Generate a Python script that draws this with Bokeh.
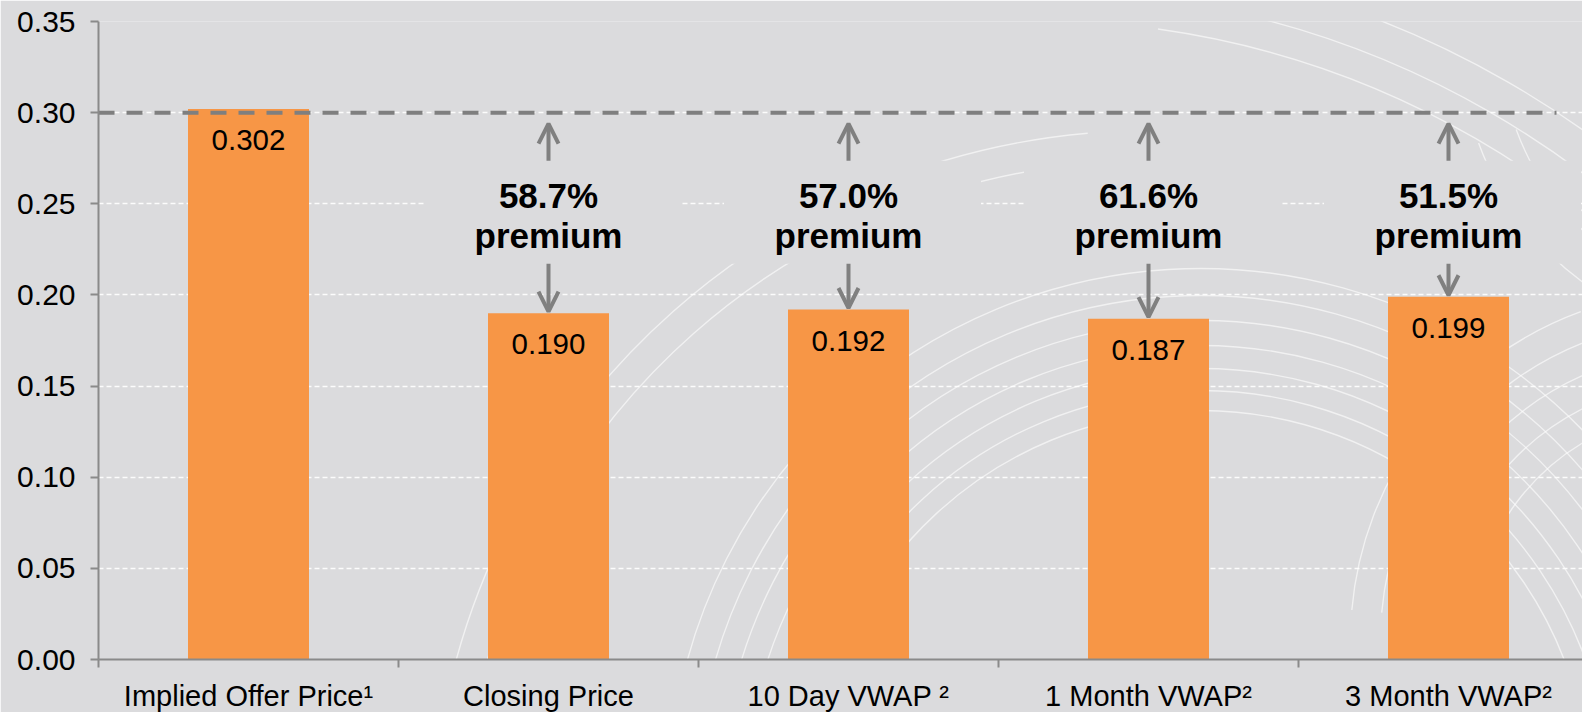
from bokeh.plotting import figure
from bokeh.models import (ColumnDataSource, LabelSet, Arrow, OpenHead, FixedTicker,
                          PrintfTickFormatter, Range1d)
from bokeh.core.properties import value
from bokeh.embed import file_html
from bokeh.resources import INLINE
import math

# ---------------- data ----------------
categories = ["Implied Offer Price", "Closing Price", "10 Day VWAP", "1 Month VWAP", "3 Month VWAP"]
footnotes = ["¹", "", " ²", "²", "²"]
prices = [0.302, 0.190, 0.192, 0.187, 0.199]
premiums = ["", "58.7%", "57.0%", "61.6%", "51.5%"]
offer_level = 0.30
y_ticks = [0.00, 0.05, 0.10, 0.15, 0.20, 0.25, 0.30, 0.35]

# ---------------- style ----------------
BG = "#DBDBDD"
ORANGE = "#F79646"
AXIS = "#8A8A8A"
ARROW = "#808080"
FONT = "Liberation Sans"

LEFT, TOP = 98, 21
FRAME_W, FRAME_H = 1484, 638
CAT_PX = 300.0
n = len(categories)
centers = [i + 0.5 for i in range(n)]
y_max = y_ticks[-1]
px_y = y_max / FRAME_H

p = figure(frame_width=FRAME_W, frame_height=FRAME_H,
           x_range=Range1d(0, FRAME_W / CAT_PX), y_range=Range1d(0, y_max),
           output_backend="svg", toolbar_location=None,
           min_border_left=LEFT, min_border_right=0, min_border_top=TOP, min_border_bottom=53)
p.background_fill_color = BG
p.border_fill_color = BG
p.outline_line_color = None


# ---- decorative background arcs (page-pixel geometry converted to data space) ----
def px2x(px):
    return (px - LEFT) / CAT_PX


def px2y(py):
    return (TOP + FRAME_H - py) * px_y


arc_cx, arc_cy, arc_r, arc_a0, arc_a1 = [], [], [], [], []


def add_arcs(cx, cy, radii, a0, a1):
    for r in radii:
        arc_cx.append(px2x(cx)); arc_cy.append(px2y(cy)); arc_r.append(r)
        arc_a0.append(math.radians(a0)); arc_a1.append(math.radians(a1))


add_arcs(1200, 800, (390, 410, 432, 455, 480, 505, 532), 15, 172)
add_arcs(1150, 850, (690, 720), 95, 168)
add_arcs(1035, 900, (880, 910, 945), 38, 82)
add_arcs(1700, 640, (230, 260, 290, 320, 350), 110, 175)
add_arcs(1760, 40, (260, 300), 200, 250)
p.arc(x=arc_cx, y=arc_cy, radius=arc_r, radius_units="screen",
      start_angle=arc_a0, end_angle=arc_a1, line_color="white", line_alpha=0.6,
      line_width=1.4)

# grid
p.xgrid.grid_line_color = None
p.ygrid.ticker = FixedTicker(ticks=y_ticks)
p.ygrid.grid_line_color = "white"
p.ygrid.grid_line_dash = "5 3"
p.ygrid.grid_line_width = 1.3
p.ygrid.grid_line_alpha = 0.9

# y axis
ya = p.yaxis[0]
ya.ticker = FixedTicker(ticks=y_ticks)
ya.formatter = PrintfTickFormatter(format="%.2f")
ya.axis_line_color = AXIS
ya.axis_line_width = 2
ya.major_tick_line_color = AXIS
ya.major_tick_line_width = 2
ya.major_tick_out = 8
ya.major_tick_in = 0
ya.minor_tick_line_color = None
ya.major_label_standoff = 15
ya.major_label_text_font = FONT
ya.major_label_text_font_size = "30px"
ya.major_label_text_color = "black"

# x axis: labels at category centres, boundary ticks drawn as minor ticks
xa = p.xaxis[0]
xa.ticker = FixedTicker(ticks=centers, minor_ticks=list(range(n)))
xa.major_label_overrides = {c: categories[i] + footnotes[i] for i, c in enumerate(centers)}
xa.axis_line_color = AXIS
xa.axis_line_width = 2
xa.major_tick_line_color = None
xa.major_tick_out = 8
xa.major_tick_in = 0
xa.minor_tick_line_color = AXIS
xa.minor_tick_line_width = 2
xa.minor_tick_out = 8
xa.minor_tick_in = 0
xa.major_label_standoff = 12
xa.major_label_text_font = FONT
xa.major_label_text_font_size = "29px"
xa.major_label_text_color = "black"

# bars
bar_src = ColumnDataSource(dict(x=centers, top=prices,
                                label=["%.3f" % v for v in prices]))
p.vbar(x="x", top="top", bottom=0, width=121 / CAT_PX, source=bar_src,
       fill_color=ORANGE, line_color=None)

# reference (offer) dashed line
p.segment(x0=[0], y0=[offer_level], x1=[n - 0.14], y1=[offer_level],
          line_color="#7F7F7F", line_width=4, line_dash="16 12")

# premium boxes + arrows
pidx = [i for i in range(n) if premiums[i]]
prem_src = ColumnDataSource(dict(
    x=[centers[i] for i in pidx],
    box_x=[centers[i] + 4 / CAT_PX for i in pidx],
    box_y=[offer_level - 99.5 * px_y for _ in pidx],
    ref=[offer_level for _ in pidx],
    up0=[offer_level - 48 * px_y for _ in pidx],
    up1=[offer_level - 11 * px_y for _ in pidx],
    dn0=[offer_level - 151 * px_y for _ in pidx],
    dn1=[prices[i] + 1.5 * px_y for i in pidx],
    prem=[premiums[i] for i in pidx],
    word=["premium" for _ in pidx],
))
p.rect(x="box_x", y="box_y", width=257, height=103, width_units="screen", height_units="screen",
       source=prem_src, fill_color=BG, line_color=None)

for a, b in (("up0", "up1"), ("dn0", "dn1")):
    p.add_layout(Arrow(end=OpenHead(size=20, line_width=4, line_color=ARROW),
                       x_start="x", y_start=a, x_end="x", y_end=b, source=prem_src,
                       line_color=ARROW, line_width=4))

for col, off in (("prem", -95), ("word", -135)):
    p.add_layout(LabelSet(x="x", y="ref", text=col, source=prem_src, y_offset=off,
                          text_align="center", text_baseline="alphabetic",
                          text_font=value(FONT), text_font_size=value("35px"),
                          text_font_style=value("bold"), text_color=value("black")))

# value labels inside bars
p.add_layout(LabelSet(x="x", y="top", text="label", source=bar_src, y_offset=-31,
                      text_align="center", text_baseline="middle",
                      text_font=value(FONT), text_font_size=value("29.5px"),
                      text_color=value("black")))

open("out.html", "w").write(file_html(p, INLINE))
